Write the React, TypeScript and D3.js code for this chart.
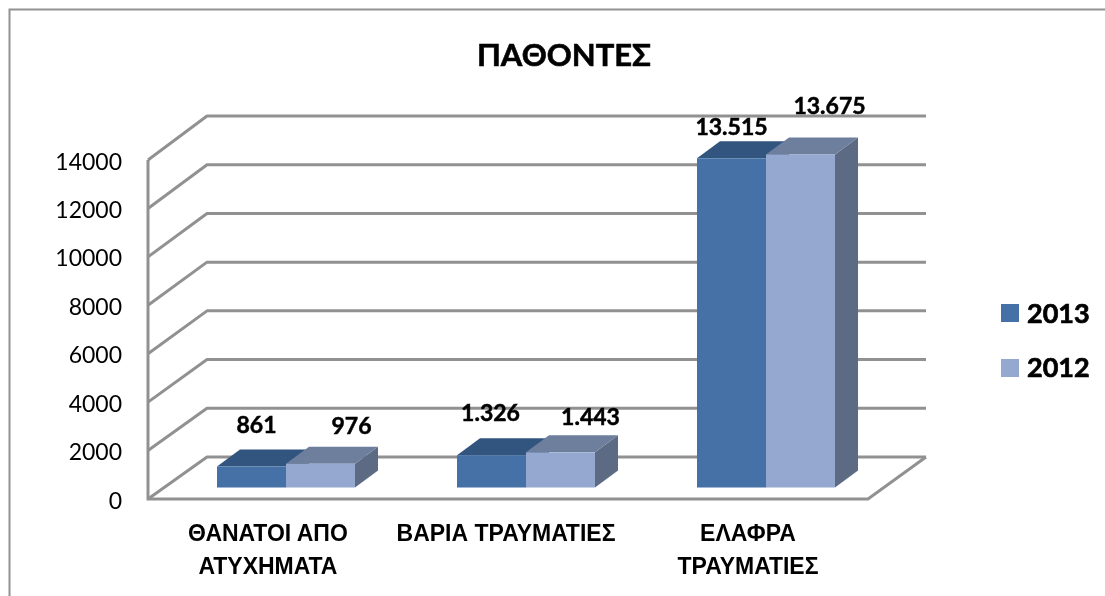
import React from 'react'
import * as d3 from 'd3'

const title = 'ΠΑΘΟΝΤΕΣ'
const categories = ['ΘΑΝΑΤΟΙ ΑΠΟ ΑΤΥΧΗΜΑΤΑ', 'ΒΑΡΙΑ ΤΡΑΥΜΑΤΙΕΣ', 'ΕΛΑΦΡΑ ΤΡΑΥΜΑΤΙΕΣ']
const categoryLines = [['ΘΑΝΑΤΟΙ ΑΠΟ', 'ΑΤΥΧΗΜΑΤΑ'], ['ΒΑΡΙΑ ΤΡΑΥΜΑΤΙΕΣ'], ['ΕΛΑΦΡΑ', 'ΤΡΑΥΜΑΤΙΕΣ']]
const seriesNames = ['2013', '2012']
const values2013 = [861, 1326, 13515]
const values2012 = [976, 1443, 13675]
const yTicks = [0, 2000, 4000, 6000, 8000, 10000, 12000, 14000]

const seriesValues = [values2013, values2012]
const colors = [
  { front: '#4571a7', top: '#32547f', side: '#35557e' },
  { front: '#95a9d0', top: '#6e7f9d', side: '#5d6b84' },
]

// the labels were placed by hand in the original, so they sit off the bars
const labelNudge = [
  [[5, -34], [31, -30]],
  [[-1, -34], [30, -27]],
  [[0, -23], [29, -40]],
]

const sans = 'Lato, "Noto Sans", sans-serif'
const arial = '"Liberation Sans", Arial, sans-serif'
const wallColor = '#919191'

const depthX = 23
const depthY = 17
const greek = d3.formatLocale({ decimal: ',', thousands: '.', grouping: [3], currency: ['', '€'] })
const fmt = greek.format(',d')

export default function App() {
  const yFront = d3.scaleLinear().domain([0, 14000]).range([499, 160])
  const yBack = d3.scaleLinear().domain([0, 14000]).range([457, 116])
  const yBar = d3.scaleLinear().domain([0, 14000]).range([487.5, 146.5])

  const xCat = d3.scaleBand().domain(categories).range([148, 868])
  const xSeries = d3.scaleBand().domain(seriesNames).range([0, 138])
  const barShift = 18
  const barLeft = (c: string) => xCat(c)! + xCat.bandwidth() / 2 + barShift - 69

  const line = d3.line()

  return (
    <svg
      width={1105}
      height={596}
      style={{ position: 'absolute', left: 0, top: 0, background: '#fff' }}
    >
      <defs>
        <filter id="soft" x="-5%" y="-5%" width="110%" height="110%">
          <feGaussianBlur stdDeviation="0.45" />
        </filter>
      </defs>
      <g filter="url(#soft)">
        <path d="M9.5,596V9.5H1105" fill="none" stroke={wallColor} strokeWidth={2} />

        {/* walls */}
        <g fill="none" stroke={wallColor} strokeWidth={3}>
          <path d={line([[148, yFront(14000)], [148, yFront(0)], [868, yFront(0)], [926, yBack(0)]])!} />
          {yTicks.map(t => (
            <path
              key={t}
              d={line([[148, yFront(t)], [207, yBack(t)], [926, yBack(t)]])!}
              strokeLinejoin="round"
            />
          ))}
        </g>

        {/* bars */}
        {categories.map((c, ci) => (
          <g key={c}>
            {seriesNames.map((s, si) => {
              const v = seriesValues[si][ci]
              const x0 = barLeft(c) + xSeries(s)!
              const x1 = x0 + xSeries.bandwidth()
              const top = yBar(v)
              const base = yBar(0)
              const col = colors[si]
              return (
                <g key={s}>
                  <path
                    d={line([[x1, top], [x1 + depthX, top - depthY], [x1 + depthX, base - depthY], [x1, base]])! + 'Z'}
                    fill={col.side}
                  />
                  <path
                    d={line([[x0, top], [x0 + depthX, top - depthY], [x1 + depthX, top - depthY], [x1, top]])! + 'Z'}
                    fill={col.top}
                  />
                  <rect x={x0} y={top} width={x1 - x0} height={base - top} fill={col.front} />
                </g>
              )
            })}
          </g>
        ))}

        {/* value labels */}
        {categories.map((c, ci) =>
          seriesNames.map((s, si) => {
            const v = seriesValues[si][ci]
            const [nx, ny] = labelNudge[ci][si]
            return (
              <text
                key={c + s}
                x={barLeft(c) + xSeries(s)! + xSeries.bandwidth() / 2 + nx}
                y={yBar(v) + ny}
                textAnchor="middle"
                fontFamily={sans}
                fontWeight={700}
                fontSize={23}
                fill="#000"
                stroke="#000"
                strokeWidth={0.5}
              >
                {fmt(v)}
              </text>
            )
          })
        )}

        {/* y axis labels */}
        {yTicks.map(t => (
          <text
            key={t}
            x={122}
            y={yFront(t) + 9.5}
            textAnchor="end"
            fontFamily={sans}
            fontSize={23}
            fill="#000"
          >
            {t}
          </text>
        ))}

        {/* category labels */}
        {categories.map((c, ci) =>
          categoryLines[ci].map((l, li) => (
            <text
              key={l}
              x={xCat(c)! + xCat.bandwidth() / 2 + (ci === 1 ? -2 : 0)}
              y={541 + li * 33}
              textAnchor="middle"
              fontFamily={arial}
              fontWeight={700}
              fontSize={23}
              fill="#000"
            >
              {l}
            </text>
          ))
        )}

        <text x={564} y={66} textAnchor="middle" fontFamily={sans} fontWeight={700} fontSize={31} fill="#000" stroke="#000" strokeWidth={0.6}>
          {title}
        </text>

        {/* legend */}
        {seriesNames.map((s, si) => (
          <g key={s}>
            <rect x={1001} y={304 + si * 55} width={18} height={18} fill={colors[si].front} />
            <text x={1027} y={323 + si * 54} fontFamily={sans} fontWeight={700} fontSize={27} fill="#000" stroke="#000" strokeWidth={0.7}>
              {s}
            </text>
          </g>
        ))}
      </g>
    </svg>
  )
}
